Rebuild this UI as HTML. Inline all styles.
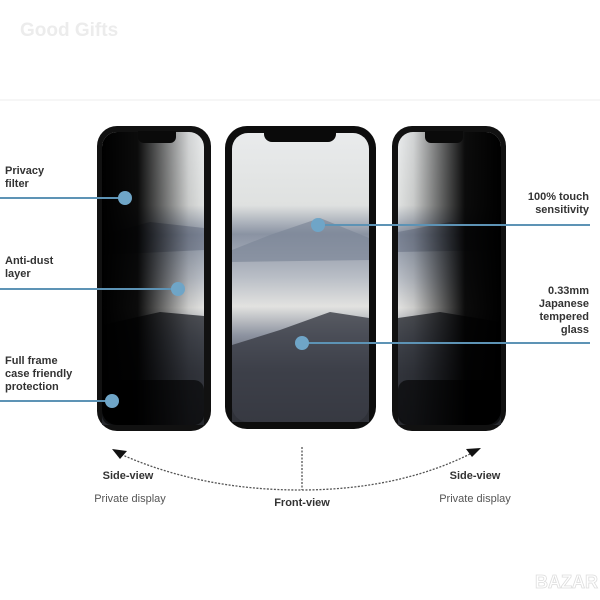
<!DOCTYPE html>
<html><head><style>body{margin:0;background:#fff}svg{display:block}</style></head><body>
<svg width="600" height="600" viewBox="0 0 600 600" xmlns="http://www.w3.org/2000/svg" font-family="Liberation Sans, sans-serif">
<defs>
<linearGradient id="sky" x1="0" y1="0" x2="0" y2="1">
<stop offset="0" stop-color="#e9ebec"/><stop offset="0.25" stop-color="#dfe1e0"/><stop offset="0.35" stop-color="#8a93a3"/><stop offset="0.5" stop-color="#b9bec6"/><stop offset="0.6" stop-color="#e2e2e0"/><stop offset="0.7" stop-color="#8d93a0"/><stop offset="0.82" stop-color="#4b4f5a"/><stop offset="1" stop-color="#2f3038"/>
</linearGradient>
<linearGradient id="darkL" x1="0" y1="0" x2="1" y2="0">
<stop offset="0" stop-color="#000" stop-opacity="1"/><stop offset="0.35" stop-color="#000" stop-opacity="0.95"/><stop offset="0.85" stop-color="#000" stop-opacity="0.1"/><stop offset="1" stop-color="#000" stop-opacity="0"/>
</linearGradient>
<linearGradient id="darkR" x1="1" y1="0" x2="0" y2="0">
<stop offset="0" stop-color="#000" stop-opacity="1"/><stop offset="0.35" stop-color="#000" stop-opacity="0.95"/><stop offset="0.85" stop-color="#000" stop-opacity="0.1"/><stop offset="1" stop-color="#000" stop-opacity="0"/>
</linearGradient>
</defs>
<text x="20" y="36" font-size="19" font-weight="bold" fill="#ececec">Good Gifts</text>
<line x1="0" y1="100" x2="600" y2="100" stroke="#f6f6f6" stroke-width="2"/>

<!-- left phone -->
<rect x="97" y="126" width="114" height="305" rx="20" fill="#111"/>
<rect x="102" y="132" width="102" height="293" rx="15" fill="url(#sky)"/>
<path d="M102 235 L150 222 L204 228 L204 250 L102 255z" fill="#6e7788" opacity="0.6"/>
<path d="M102 325 L160 312 L204 316 L204 425 L102 425z" fill="#2c2e35" opacity="0.8"/>
<rect x="102" y="132" width="102" height="293" rx="15" fill="url(#darkL)"/>
<rect x="102" y="380" width="102" height="45" rx="10" fill="#000" opacity="0.6"/>
<path d="M138 131 h38 v6 a6 6 0 0 1 -6 6 h-26 a6 6 0 0 1 -6 -6z" fill="#0a0a0a"/>

<!-- center phone -->
<rect x="225" y="126" width="151" height="303" rx="22" fill="#0d0d0d"/>
<rect x="232" y="133" width="137" height="289" rx="16" fill="url(#sky)"/>
<path d="M232 250 L270 235 L320 218 L369 238 L369 260 L232 262z" fill="#7d8799" opacity="0.7"/>
<path d="M232 345 L280 330 L330 312 L369 318 L369 422 L232 422z" fill="#3a3c45" opacity="0.8"/>
<path d="M264 130 h72 v4 a8 8 0 0 1 -8 8 h-56 a8 8 0 0 1 -8 -8z" fill="#0a0a0a"/>

<!-- right phone -->
<rect x="392" y="126" width="114" height="305" rx="20" fill="#111"/>
<rect x="398" y="132" width="103" height="293" rx="15" fill="url(#sky)"/>
<path d="M398 232 L450 222 L501 230 L501 250 L398 252z" fill="#6e7788" opacity="0.6"/>
<path d="M398 318 L440 312 L501 322 L501 425 L398 425z" fill="#2c2e35" opacity="0.8"/>
<rect x="398" y="132" width="103" height="293" rx="15" fill="url(#darkR)"/>
<rect x="398" y="380" width="103" height="45" rx="10" fill="#000" opacity="0.6"/>
<path d="M425 131 h38 v6 a6 6 0 0 1 -6 6 h-26 a6 6 0 0 1 -6 -6z" fill="#0a0a0a"/>

<!-- callout lines -->
<g stroke="#5d93b5" stroke-width="2">
<line x1="0" y1="198" x2="125" y2="198"/>
<line x1="0" y1="289" x2="178" y2="289"/>
<line x1="0" y1="401" x2="112" y2="401"/>
<line x1="318" y1="225" x2="590" y2="225"/>
<line x1="302" y1="343" x2="590" y2="343"/>
</g>
<g fill="#6fa5c7">
<circle cx="125" cy="198" r="7"/><circle cx="178" cy="289" r="7"/><circle cx="112" cy="401" r="7"/>
<circle cx="318" cy="225" r="7"/><circle cx="302" cy="343" r="7"/>
</g>

<g font-size="11" font-weight="bold" fill="#333">
<text x="5" y="174">Privacy</text><text x="5" y="187">filter</text>
<text x="5" y="264">Anti-dust</text><text x="5" y="277">layer</text>
<text x="5" y="364">Full frame</text><text x="5" y="377">case friendly</text><text x="5" y="390">protection</text>
<g text-anchor="end">
<text x="589" y="200">100% touch</text><text x="589" y="213">sensitivity</text>
<text x="589" y="294">0.33mm</text><text x="589" y="307">Japanese</text><text x="589" y="320">tempered</text><text x="589" y="333">glass</text>
</g>
</g>

<!-- bottom arrows -->
<g fill="none" stroke="#555" stroke-width="1.3" stroke-dasharray="2,1.5">
<path d="M118 453 Q200 490 300 490 Q400 490 474 452"/>
<line x1="302" y1="447" x2="302" y2="490"/>
</g>
<path d="M112 449 L127 451 L120 459z" fill="#111"/>
<path d="M481 448 L466 449 L472 457z" fill="#111"/>
<g font-size="11" fill="#333" text-anchor="middle">
<text x="128" y="479" font-weight="bold">Side-view</text>
<text x="130" y="502" fill="#555">Private display</text>
<text x="302" y="506" font-weight="bold">Front-view</text>
<text x="475" y="479" font-weight="bold">Side-view</text>
<text x="475" y="502" fill="#555">Private display</text>
</g>
<text x="535" y="588" font-size="18" font-weight="bold" fill="#fff" stroke="#ddd" stroke-width="0.8">BAZAR</text>
</svg>
</body></html>
